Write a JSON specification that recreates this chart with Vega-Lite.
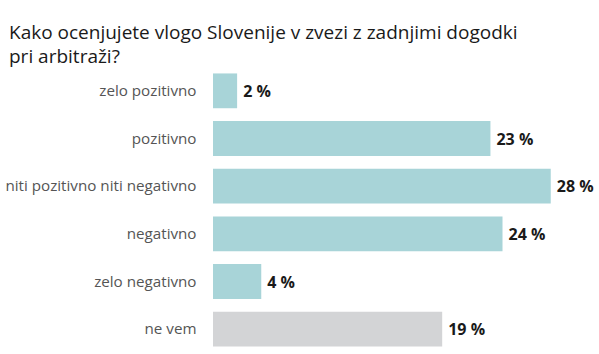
{
  "$schema": "https://vega.github.io/schema/vega-lite/v6.json",
  "width": 386,
  "height": 286,
  "autosize": {"type": "none"},
  "padding": {"left": 213, "top": 67, "right": 0, "bottom": 1},
  "background": "white",
  "title": {
    "text": ["Kako ocenjujete vlogo Slovenije v zvezi z zadnjimi dogodki", "pri arbitraži?"],
    "anchor": "start",
    "frame": "group",
    "dx": -204,
    "offset": 0,
    "font": "Open Sans",
    "fontSize": 19,
    "fontWeight": "normal",
    "color": "#1a1a1a",
    "lineHeight": 24
  },
  "data": {
    "values": [
      {"odgovor": "zelo pozitivno", "delez": 2, "vrsta": "ocena"},
      {"odgovor": "pozitivno", "delez": 23, "vrsta": "ocena"},
      {"odgovor": "niti pozitivno niti negativno", "delez": 28, "vrsta": "ocena"},
      {"odgovor": "negativno", "delez": 24, "vrsta": "ocena"},
      {"odgovor": "zelo negativno", "delez": 4, "vrsta": "ocena"},
      {"odgovor": "ne vem", "delez": 19, "vrsta": "ne vem"}
    ]
  },
  "transform": [{"calculate": "datum.delez + ' %'", "as": "oznaka"}],
  "encoding": {
    "y": {
      "field": "odgovor",
      "type": "nominal",
      "sort": null,
      "scale": {"paddingInner": 0.27, "paddingOuter": 0.135},
      "axis": {
        "title": null,
        "domain": false,
        "ticks": false,
        "labelPadding": 17,
        "labelFont": "Open Sans",
        "labelFontSize": 15.2,
        "labelColor": "#555555",
        "labelLimit": 300
      }
    },
    "x": {
      "field": "delez",
      "type": "quantitative",
      "scale": {"domain": [0, 32], "nice": false},
      "axis": null
    }
  },
  "layer": [
    {
      "mark": {"type": "bar"},
      "encoding": {
        "color": {
          "field": "vrsta",
          "type": "nominal",
          "scale": {"domain": ["ocena", "ne vem"], "range": ["#a8d4d8", "#d3d4d6"]},
          "legend": null
        }
      }
    },
    {
      "mark": {
        "type": "text",
        "align": "left",
        "baseline": "middle",
        "dx": 6,
        "dy": 1,
        "font": "Open Sans",
        "fontSize": 16,
        "fontWeight": "bold",
        "color": "#1a1a1a"
      },
      "encoding": {"text": {"field": "oznaka"}}
    }
  ],
  "config": {"view": {"stroke": null}}
}
